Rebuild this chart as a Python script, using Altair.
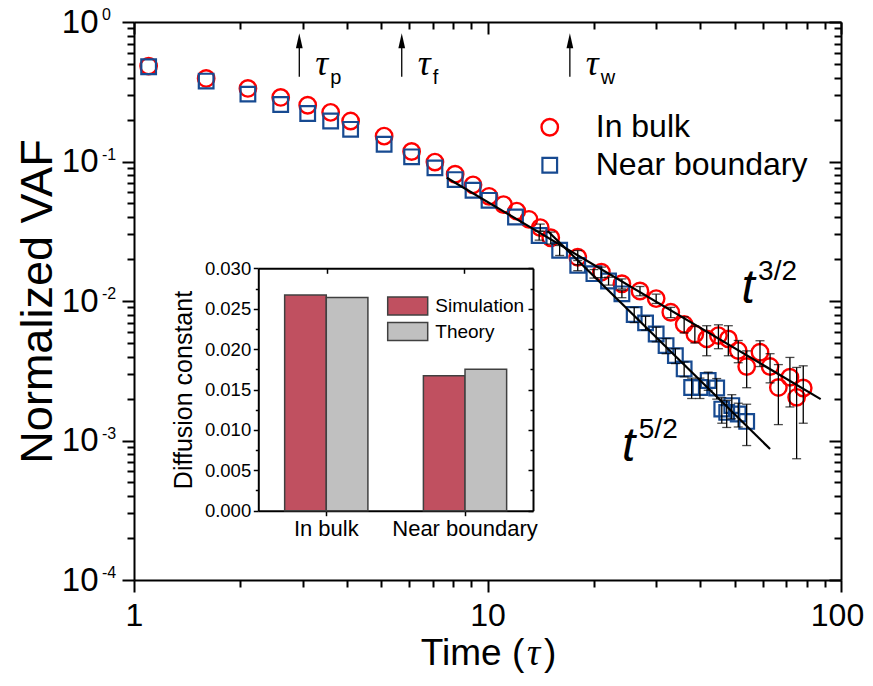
import altair as alt
import pandas as pd

W, H = 707, 558
FONT = "Liberation Sans"
SERIF = "Liberation Serif"

# ---------------- main panel data ----------------
t_bulk = [1.1, 1.6, 2.1, 2.6, 3.1, 3.6, 4.1, 5.1, 6.1, 7.1, 8.1, 9.1, 10.1, 11.1, 12.1,
          13.1, 14.1, 15.1, 18.0, 21.0, 24.0, 27.0, 30.0, 33.0, 36.0, 38.6, 41.7, 45.0,
          48.0, 51.2, 54.1, 59.0, 63.0, 66.5, 71.7, 74.9, 78.2]
vaf_bulk = [0.483, 0.394, 0.334, 0.288, 0.253, 0.225, 0.195, 0.152, 0.118, 0.099, 0.081,
            0.068, 0.0563, 0.0491, 0.0441, 0.0385, 0.0336, 0.0284, 0.0206, 0.0161, 0.0133,
            0.0118, 0.0104, 0.0083, 0.0068, 0.0058, 0.00535, 0.00565, 0.00535, 0.00441,
            0.00339, 0.00429, 0.00339, 0.0024, 0.00284, 0.00204, 0.00238]
err_bulk = [0, 0, 0, 0, 0, 0, 0, 0, 0, 0, 0, 0, 0, 0, 0, 0, 0.002, 0.0028, 0.0024, 0.0014,
            0.0011, 0.0009, 0.0008, 0.0007, 0.0009, 0.0008, 0.0013, 0.0011, 0.0013, 0.0008,
            0.0010, 0.0009, 0.0008, 0.0011, 0.0011, 0.0013, 0.00105]

t_bound = [1.1, 1.6, 2.1, 2.6, 3.1, 3.6, 4.1, 5.1, 6.1, 7.1, 8.1, 9.1, 10.1, 12.0, 14.0,
           16.0, 18.0, 20.0, 22.0, 24.0, 26.0, 28.0, 30.0, 32.0, 34.0, 36.0, 37.8, 39.9,
           42.1, 44.5, 46.0, 47.5, 49.1, 51.2, 54.1]
vaf_bound = [0.478, 0.377, 0.304, 0.256, 0.221, 0.195, 0.170, 0.133, 0.108, 0.090, 0.0742,
             0.0622, 0.0527, 0.0400, 0.0295, 0.0231, 0.0180, 0.0157, 0.0139, 0.01126,
             0.0080, 0.00697, 0.0058, 0.00479, 0.00406, 0.00326, 0.0024, 0.0024, 0.00269,
             0.00238, 0.00168, 0.00159, 0.00178, 0.00155, 0.00137]
err_bound = [0, 0, 0, 0, 0, 0, 0, 0, 0, 0, 0, 0, 0, 0, 0.0022, 0.0019, 0.0015, 0.0011,
             0.0009, 0.0007, 0.0010, 0.0008, 0.0007, 0.0006, 0.0005, 0.0004, 0.0004, 0.0004,
             0.0004, 0.0004, 0.00035, 0.00035, 0.00035, 0.0003, 0.00045]

fit_group = ["3/2", "3/2", "5/2", "5/2"]
fit_t = [7.67, 87.6, 14.8, 63.0]
fit_v = [0.0764, 0.00198, 0.0318, 0.000869]

fitlab_t = [54.6, 25.1]
fitlab_v = [0.00964, 0.000715]
fitlab_sup = ["3/2", "5/2"]

tau_t = [2.935, 5.72, 17.1]
tau_sub = ["p", "f", "w"]
arrow_lo = 0.405
arrow_hi = 0.684
arrow_head = 0.733
tau_label_v = 0.4167

legend_t = 15.0
legend_v = [0.176, 0.094]
legend_text = ["In bulk", "Near boundary"]

x_ticks = [1, 2, 3, 4, 5, 6, 7, 8, 9, 10, 20, 30, 40, 50, 60, 70, 80, 90, 100]
y_ticks = [0.0001, 0.0002, 0.0003, 0.0004, 0.0005, 0.0006, 0.0007, 0.0008, 0.0009,
           0.001, 0.002, 0.003, 0.004, 0.005, 0.006, 0.007, 0.008, 0.009,
           0.01, 0.02, 0.03, 0.04, 0.05, 0.06, 0.07, 0.08, 0.09,
           0.1, 0.2, 0.3, 0.4, 0.5, 0.6, 0.7, 0.8, 0.9, 1.0]
y_decades = [1.0, 0.1, 0.01, 0.001, 0.0001]
y_exponents = ["0", "-1", "-2", "-3", "-4"]

# ---------------- inset data ----------------
ins_cat = ["In bulk", "In bulk", "Near boundary", "Near boundary"]
ins_series = ["Simulation", "Theory", "Simulation", "Theory"]
ins_val = [0.0267, 0.0264, 0.0167, 0.0175]
ins_ticks = [0, 0.0025, 0.005, 0.0075, 0.01, 0.0125, 0.015, 0.0175, 0.02, 0.0225,
             0.025, 0.0275, 0.03]

# ---------------- frames ----------------
df_bulk = pd.DataFrame({"t": t_bulk, "v": vaf_bulk, "e": err_bulk})
df_bound = pd.DataFrame({"t": t_bound, "v": vaf_bound, "e": err_bound})
err_df = pd.concat([df_bulk, df_bound])
err_df = err_df[err_df.e > 0].copy()
err_df["lo"] = err_df.v - err_df.e
err_df["hi"] = err_df.v + err_df.e
df_fit = pd.DataFrame({"g": fit_group, "t": fit_t, "v": fit_v})
df_flab = pd.DataFrame({"t": fitlab_t, "v": fitlab_v, "sup": fitlab_sup})
df_tau = pd.DataFrame({"t": tau_t, "sub": tau_sub, "lo": arrow_lo, "hi": arrow_hi,
                       "head": arrow_head, "lab": tau_label_v})
df_leg = pd.DataFrame({"t": legend_t, "v": legend_v, "text": legend_text})
df_exp = pd.DataFrame({"v": y_decades, "lab": y_exponents})
df_ins = pd.DataFrame({"cat": ins_cat, "series": ins_series, "val": ins_val})
df_one = pd.DataFrame({"k": [0]})

xs = alt.Scale(type="log", domain=[1, 100], nice=False)
ys = alt.Scale(type="log", domain=[0.0001, 1], nice=False)
MAJOR = "abs(log(datum.value)/LN10 - round(log(datum.value)/LN10)) < 0.001"
tick_cond = {"condition": {"test": MAJOR, "value": 12}, "value": 7}

common_axis = dict(domainColor="black", domainWidth=2, tickColor="black", tickWidth=2,
                   grid=False, labelColor="black", labelFont=FONT)


def X(field):
    return alt.X(f"{field}:Q", scale=xs, axis=None)


def Y(field):
    return alt.Y(f"{field}:Q", scale=ys, axis=None)


# axes layers (frame with outward ticks left/bottom, inward ticks top/right)
x_axis = alt.Axis(orient="bottom", values=x_ticks, tickSize=tick_cond,
                  labelExpr=f"({MAJOR}) ? format(datum.value, 'd') : ''",
                  labelFontSize=32, labelPadding=8, labelOverlap=False, labelFlush=False,
                  labelOffset={"condition": {"test": "datum.value > 99", "value": -4},
                               "value": 0},
                  title=None, **common_axis)
y_axis = alt.Axis(orient="left", values=y_ticks, tickSize=tick_cond,
                  labelExpr=f"({MAJOR}) ? '10' : ''", labelFontSize=33, labelPadding=24,
                  labelOverlap=False, labelFlush=False, title="Normalized VAF",
                  titleFont=FONT, titleFontSize=45, titleFontWeight="normal",
                  titleColor="black", titlePadding=1, **common_axis)
main_axes = alt.Chart(df_bulk).mark_point(opacity=0).encode(
    x=alt.X("t:Q", scale=xs, axis=x_axis),
    y=alt.Y("v:Q", scale=ys, axis=y_axis))

mirror_x_axis = alt.Axis(orient="bottom", offset=-H, values=x_ticks, tickSize=tick_cond,
                         labels=False, title=None, **common_axis)
mirror_y_axis = alt.Axis(orient="left", offset=-W, values=y_ticks, tickSize=tick_cond,
                         labels=False, title=None, **common_axis)
main_mirror = alt.Chart(df_bulk).mark_point(opacity=0).encode(
    x=alt.X("t:Q", scale=xs, axis=mirror_x_axis),
    y=alt.Y("v:Q", scale=ys, axis=mirror_y_axis))

red = alt.Chart(df_bulk).mark_point(shape="circle", filled=False, color="#FF0000",
                                     size=270, strokeWidth=2.4, opacity=1).encode(
    x=X("t"), y=Y("v"))
blue = alt.Chart(df_bound).mark_point(shape="square", filled=False, color="#174A91",
                                       size=215, strokeWidth=2.2, opacity=1).encode(
    x=X("t"), y=Y("v"))
err_rule = alt.Chart(err_df).mark_rule(color="black", strokeWidth=1.3).encode(
    x=X("t"), y=Y("lo"), y2="hi")
cap_lo = alt.Chart(err_df).mark_tick(color="black", orient="horizontal", size=9,
                                     thickness=1.3).encode(x=X("t"), y=Y("lo"))
cap_hi = alt.Chart(err_df).mark_tick(color="black", orient="horizontal", size=9,
                                     thickness=1.3).encode(x=X("t"), y=Y("hi"))
fits = alt.Chart(df_fit).mark_line(color="black", strokeWidth=2.2).encode(
    x=X("t"), y=Y("v"), detail="g:N")
fit_t_txt = alt.Chart(df_flab).mark_text(text="t", font=FONT, fontStyle="italic",
                                         fontSize=48, align="center",
                                         baseline="alphabetic", color="black").encode(
    x=X("t"), y=Y("v"))
fit_sup_txt = alt.Chart(df_flab).mark_text(font=FONT, fontSize=28, align="left",
                                           baseline="alphabetic", dx=10, dy=-23,
                                           color="black").encode(
    x=X("t"), y=Y("v"), text="sup:N")
shaft = alt.Chart(df_tau).mark_rule(color="black", strokeWidth=1.3).encode(
    x=X("t"), y=Y("lo"), y2="hi")
head = alt.Chart(df_tau).mark_point(shape="M0,-1L0.45,1L-0.45,1Z", filled=True,
                                    color="black", size=225, opacity=1).encode(
    x=X("t"), y=Y("head"))
tau_txt = alt.Chart(df_tau).mark_text(text="τ", font=SERIF, fontStyle="italic",
                                      fontSize=36, align="left", baseline="alphabetic",
                                      dx=16, color="black").encode(x=X("t"), y=Y("lab"))
tau_sub_txt = alt.Chart(df_tau).mark_text(font=FONT, fontSize=20, align="left",
                                          baseline="alphabetic", dx=31, dy=9,
                                          color="black").encode(
    x=X("t"), y=Y("lab"), text="sub:N")
leg_red = alt.Chart(df_leg.iloc[[0]]).mark_point(shape="circle", filled=False,
                                                 color="#FF0000", size=270,
                                                 strokeWidth=2.4, opacity=1).encode(
    x=X("t"), y=Y("v"))
leg_blue = alt.Chart(df_leg.iloc[[1]]).mark_point(shape="square", filled=False,
                                                  color="#174A91", size=215,
                                                  strokeWidth=2.2, opacity=1).encode(
    x=X("t"), y=Y("v"))
leg_txt = alt.Chart(df_leg).mark_text(font=FONT, fontSize=32, align="left",
                                      baseline="middle", dx=46, color="black").encode(
    x=X("t"), y=Y("v"), text="text:N")
exp_txt = alt.Chart(df_exp).mark_text(font=FONT, fontSize=16, align="left",
                                      baseline="middle", dy=-7, color="black").encode(
    x=alt.value(-32), y=Y("v"), text="lab:N")
XT_Y = 643
xt1 = alt.Chart(df_one).mark_text(text="Time (", font=FONT, fontSize=37,
                                  align="left", baseline="alphabetic",
                                  color="black").encode(
    x=alt.value(286.8), y=alt.value(XT_Y))
xt2 = alt.Chart(df_one).mark_text(text="τ", font=SERIF, fontStyle="italic",
                                  fontSize=37, align="left",
                                  baseline="alphabetic", color="black").encode(
    x=alt.value(393), y=alt.value(XT_Y))
xt3 = alt.Chart(df_one).mark_text(text=")", font=FONT, fontSize=37,
                                  align="left", baseline="alphabetic",
                                  color="black").encode(
    x=alt.value(410), y=alt.value(XT_Y))

# ---------------- inset ----------------
IL, IR, IT, IB = 124.3, 399.0, 246.3, 488.7
ins_xs = alt.Scale(domain=["In bulk", "Near boundary"], range=[IL, IR],
                   paddingInner=0.4, paddingOuter=0.19)
ins_ys = alt.Scale(domain=[0, 0.03], range=[IB, IT], nice=False, zero=False)
INS_MAJOR = "abs(datum.value*200 - round(datum.value*200)) < 0.001"
ins_tick = {"condition": {"test": INS_MAJOR, "value": 5}, "value": 3}
ins_common = dict(domainColor="black", domainWidth=2, tickColor="black", tickWidth=1.5,
                  grid=False, labelColor="black", labelFont=FONT)

ins_x_axis = alt.Axis(orient="bottom", offset=-(H - IB), tickSize=5, labelFontSize=22,
                      labelPadding=3, labelAngle=0, title=None, **ins_common)
ins_y_axis = alt.Axis(orient="left", offset=-IL, values=ins_ticks, tickSize=ins_tick,
                      labelExpr=f"({INS_MAJOR}) ? format(datum.value, '.3f') : ''",
                      labelFontSize=18.5, labelPadding=2.6, labelOverlap=False,
                      labelFlush=False, title="Diffusion constant", titleFont=FONT,
                      titleFontSize=25, titleFontWeight="normal", titleColor="black",
                      titlePadding=8, **ins_common)

bars = alt.Chart(df_ins).mark_bar(stroke="#404040", strokeWidth=1.5).encode(
    x=alt.X("cat:N", scale=ins_xs, axis=ins_x_axis, sort=None),
    xOffset=alt.XOffset("series:N", scale=alt.Scale(paddingInner=0, paddingOuter=0)),
    y=alt.Y("val:Q", scale=ins_ys, axis=ins_y_axis),
    fill=alt.Fill("series:N",
                  scale=alt.Scale(domain=["Simulation", "Theory"],
                                  range=["#C05060", "#C0C0C0"]),
                  legend=alt.Legend(orient="none", legendX=262.7, legendY=273.1,
                                    title=None, padding=0, offset=0,
                                    symbolType="M-2,-0.9L2,-0.9L2,0.9L-2,0.9Z",
                                    symbolSize=400, symbolStrokeColor="#404040",
                                    symbolStrokeWidth=1.5, symbolOpacity=1,
                                    labelFont=FONT, labelFontSize=19,
                                    labelColor="black", labelOffset=16.6,
                                    rowPadding=1.5)))

ins_mx_axis = alt.Axis(orient="bottom", offset=-(H - IT), tickSize=5, labels=False,
                       title=None, **ins_common)
ins_my_axis = alt.Axis(orient="left", offset=-IR, values=ins_ticks, tickSize=ins_tick,
                       labels=False, title=None, **ins_common)
ins_mirror = alt.Chart(df_ins).mark_point(opacity=0).encode(
    x=alt.X("cat:N", scale=ins_xs, axis=ins_mx_axis, sort=None),
    y=alt.Y("val:Q", scale=ins_ys, axis=ins_my_axis))

chart = alt.layer(
    main_axes, main_mirror, red, blue, leg_red, leg_blue, err_rule, cap_lo, cap_hi,
    fits, shaft, head, tau_txt, tau_sub_txt, fit_t_txt, fit_sup_txt, leg_txt, exp_txt,
    xt1, xt2, xt3, bars, ins_mirror
).resolve_scale(x="independent", y="independent").properties(
    width=W, height=H,
    autosize=alt.AutoSizeParams(type="none"),
    padding={"left": 126, "top": 14, "right": 24, "bottom": 96},
).configure_view(stroke=None).configure(font=FONT)

chart.save("out.html", embed_options={"renderer": "svg", "actions": False})
